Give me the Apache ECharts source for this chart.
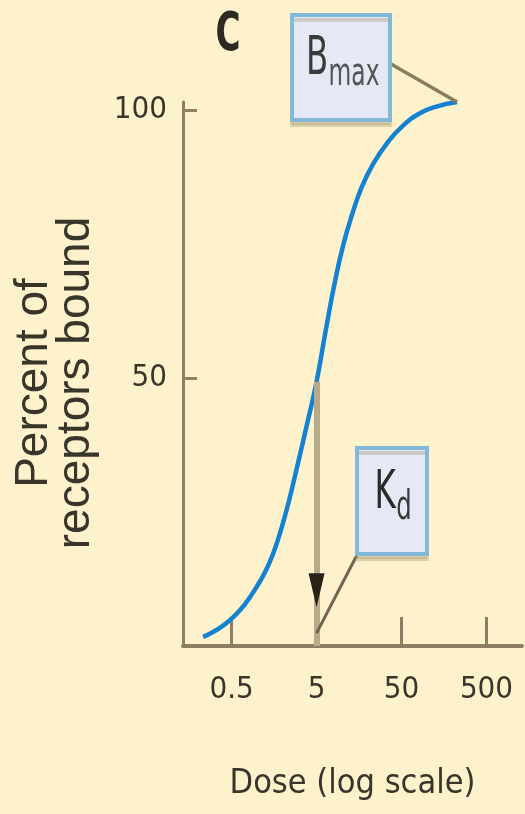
<!DOCTYPE html>
<html>
<head>
<meta charset="utf-8">
<script src="https://cdn.jsdelivr.net/npm/echarts@6/dist/echarts.min.js"></script>
<style>
  html, body { margin: 0; padding: 0; background: #fdf2cb; }
  #chart { width: 525px; height: 814px; }
</style>
</head>
<body>
<div id="chart"></div>
<script>
// Dose (log scale) and percent of receptors bound
const doses    = [0.231, 0.303, 0.397, 0.507, 0.63, 0.782, 1.0, 1.24, 1.54, 1.91, 2.37, 2.95, 3.87, 5.0, 6.47, 8.26, 10.3, 13.1, 17.1, 23.1, 33.7, 52.1, 82.6, 131, 225];
const percents = [1.7, 2.6, 3.8, 5.2, 6.7, 8.6, 11.2, 13.8, 17.2, 21.7, 27.1, 33.4, 41.4, 49.3, 59.2, 68.1, 74.8, 80.5, 85.7, 89.9, 93.8, 97.1, 99.4, 100.7, 101.5];
const doseTicks = [0.5, 5, 50, 500];
const percentTicks = [50, 100];
const kdDose = 5;
const panelLabel = 'C';
const xName = 'Dose (log scale)';
const yName = 'Percent of\nreceptors bound';

const NARROW = "'Liberation Sans Narrow', 'DejaVu Sans Condensed', 'Arial Narrow', sans-serif";
const SANS = "'Liberation Sans', Arial, sans-serif";
const AXIS = '#8c7f63';
const TEXT = '#3a352b';

const lineData = doses.map((d, i) => [d, percents[i]]);
const kdIndex = doses.indexOf(kdDose);
const lastIdx = doses.length - 1;

const chart = echarts.init(document.getElementById('chart'));
chart.setOption({
  backgroundColor: '#fdf2cb',
  animation: false,
  grid: { left: 183, right: 3, top: 102, bottom: 168, containLabel: false, outerBoundsMode: 'none' },
  xAxis: {
    type: 'log',
    logBase: 10,
    min: 0.134,
    max: 1309,
    name: xName,
    nameLocation: 'middle',
    nameGap: 121,
    nameTextStyle: { fontFamily: NARROW, fontSize: 34, color: TEXT },
    axisLine: { show: true, lineStyle: { color: AXIS, width: 4 } },
    axisTick: { show: true, inside: true, length: 29, customValues: doseTicks, lineStyle: { color: AXIS, width: 3 } },
    axisLabel: { show: true, customValues: doseTicks, margin: 28, fontFamily: NARROW, fontSize: 31, color: TEXT,
      formatter: v => String(v) },
    splitLine: { show: false },
    minorTick: { show: false }
  },
  yAxis: {
    type: 'value',
    min: 0,
    max: 101.5,
    name: yName,
    nameLocation: 'middle',
    nameGap: 86,
    nameTextStyle: { fontFamily: SANS, fontSize: 46, lineHeight: 42, color: TEXT, padding: [0, 18, 0, 0] },
    axisLine: { show: true, lineStyle: { color: AXIS, width: 3 } },
    axisTick: { show: true, inside: true, length: 14, customValues: percentTicks, lineStyle: { color: AXIS, width: 3 } },
    axisLabel: { show: true, customValues: percentTicks, margin: 16, fontFamily: NARROW, fontSize: 31, color: TEXT },
    splitLine: { show: false }
  },
  series: [{
    type: 'line',
    data: lineData,
    smooth: 0.5,
    symbol: 'none',
    clip: false,
    lineStyle: { color: '#1482d0', width: 4.5 },
    z: 3,
    markLine: {
      silent: true,
      symbol: ['none', 'none'],
      label: { show: false },
      data: [
        // dose 5 drop line from the curve to the axis
        [{ coord: [kdDose, percents[kdIndex]], lineStyle: { color: '#b8aa88', width: 6, type: 'solid' } },
         { coord: [kdDose, 0] }],
        // Kd leader line
        [{ x: 358, y: 553, lineStyle: { color: '#6f6450', width: 3, type: 'solid' } },
         { coord: [kdDose, 2.4] }],
        // Bmax leader line
        [{ x: 391, y: 64, lineStyle: { color: '#8a7c5e', width: 3.5, type: 'solid' } },
         { coord: [doses[lastIdx], percents[lastIdx]] }]
      ]
    },
    markPoint: {
      silent: true,
      label: { show: false },
      data: [{
        coord: [kdDose, 10.4],
        symbol: 'triangle',
        symbolRotate: 180,
        symbolSize: [16, 34],
        itemStyle: { color: '#2a2218' }
      }]
    }
  }],
  graphic: [
    { type: 'text', x: 228, y: 36, scaleY: 1.4, style: { text: panelLabel, fontFamily: NARROW, fontWeight: 'bold', fontSize: 38, fill: '#2d2a22', align: 'center', verticalAlign: 'middle' } },
    { type: 'rect', shape: { x: 292, y: 15, width: 98, height: 105 },
      style: { fill: '#e4e9f5', stroke: '#82b8d8', lineWidth: 4, shadowColor: 'rgba(160,150,110,0.35)', shadowOffsetY: 5, shadowBlur: 0 }, z: 10 },
    { type: 'text', x: 317, y: 60, z: 11, scaleY: 1.5, style: { text: 'B', fontFamily: NARROW, fontSize: 36, fill: '#3a3a3a', align: 'center', verticalAlign: 'middle' } },
    { type: 'text', x: 354, y: 75, z: 11, scaleY: 1.5, style: { text: 'max', fontFamily: NARROW, fontSize: 26, fill: '#555', align: 'center', verticalAlign: 'middle' } },
    { type: 'rect', shape: { x: 357, y: 448, width: 70, height: 106 },
      style: { fill: '#e4e9f5', stroke: '#82b8d8', lineWidth: 4, shadowColor: 'rgba(160,150,110,0.35)', shadowOffsetY: 5, shadowBlur: 0 }, z: 10 },
    { type: 'text', x: 385, y: 494, z: 11, scaleY: 1.5, style: { text: 'K', fontFamily: NARROW, fontSize: 36, fill: '#2a2a2a', align: 'center', verticalAlign: 'middle' } },
    { type: 'text', x: 404, y: 508, z: 11, scaleY: 1.5, style: { text: 'd', fontFamily: NARROW, fontSize: 27, fill: '#3a3a3a', align: 'center', verticalAlign: 'middle' } }
  ]
});
</script>
</body>
</html>
